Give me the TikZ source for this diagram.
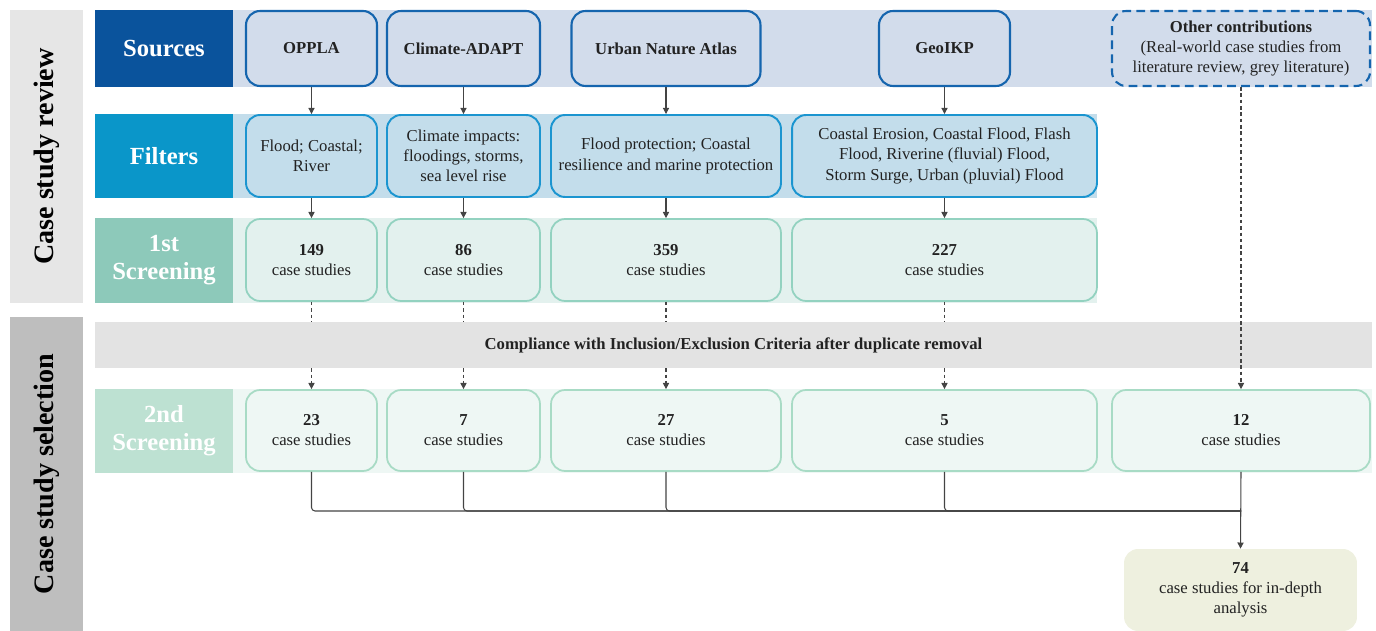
\documentclass[tikz,border=0pt]{standalone}
\usepackage{fontspec}
\setmainfont{Liberation Serif}
\usetikzlibrary{arrows.meta, positioning}
\definecolor{reviewgray}{HTML}{E6E6E6}
\definecolor{selectgray}{HTML}{BEBEBE}
\definecolor{srclabel}{HTML}{0A539C}
\definecolor{srcband}{HTML}{D2DCEB}
\definecolor{srcborder}{HTML}{1565AE}
\definecolor{fltlabel}{HTML}{0A96C9}
\definecolor{fltband}{HTML}{C3DDEB}
\definecolor{fltborder}{HTML}{1B95D0}
\definecolor{onelabel}{HTML}{8DC9BA}
\definecolor{oneband}{HTML}{E3F1EE}
\definecolor{oneborder}{HTML}{93D2C0}
\definecolor{critband}{HTML}{E3E3E3}
\definecolor{twolabel}{HTML}{BDE1D2}
\definecolor{twoband}{HTML}{EEF7F4}
\definecolor{twoborder}{HTML}{A8DBC5}
\definecolor{finalfill}{HTML}{EEF0DF}
\definecolor{txtdark}{HTML}{222222}
\definecolor{arrowgray}{HTML}{444444}

\begin{document}
\begin{tikzpicture}[
  x=0.02cm, y=-0.02cm,
  every node/.style={font=\fontsize{9.5}{11.4}\selectfont, text=txtdark, inner sep=2pt},
  sidebar/.style={rectangle, rotate=90, minimum height=1.46cm, align=center, font=\fontsize{16}{19}\selectfont\bfseries, text=black},
  rowlabel/.style={rectangle, minimum width=2.76cm, align=center, font=\fontsize{14}{16}\selectfont\bfseries, text=white},
  srcbox/.style={rectangle, rounded corners=8pt, draw=srcborder, fill=srcband, line width=1.2pt, minimum height=1.5cm, align=center, font=\fontsize{9.5}{11.4}\selectfont\bfseries},
  fltbox/.style={rectangle, rounded corners=8pt, draw=fltborder, fill=fltband, line width=1.1pt, minimum height=1.64cm, align=center},
  onebox/.style={rectangle, rounded corners=8pt, draw=oneborder, fill=oneband, line width=1pt, minimum height=1.64cm, align=center},
  twobox/.style={rectangle, rounded corners=8pt, draw=twoborder, fill=twoband, line width=1pt, minimum height=1.62cm, align=center},
  flow/.style={draw=arrowgray, line width=0.6pt, -{Triangle[length=3.5pt,width=3.5pt]}},
  dflow/.style={flow, dash pattern=on 2pt off 1.6pt},
]
\useasboundingbox (0,0) rectangle (1376,631);

% row bands
\fill[srcband] (233,10) rectangle (1372,87);
\fill[fltband] (233,114) rectangle (1097,198);
\fill[oneband] (233,218) rectangle (1097,303);
\fill[twoband] (233,389) rectangle (1372,473);

\node[sidebar, fill=reviewgray, minimum width=5.86cm] (review) at (46.5,156.5) {Case study review};
\node[sidebar, fill=selectgray, minimum width=6.28cm] (select) at (46.5,474) {Case study selection};

\node[rowlabel, fill=srclabel, minimum height=1.54cm] (lsrc) at (164,48.5) {Sources};
\node[rowlabel, fill=fltlabel, minimum height=1.68cm] (lflt) at (164,156) {Filters};
\node[rowlabel, fill=onelabel, minimum height=1.70cm] (lone) at (164,260.5) {1st\\Screening};
\node[rowlabel, fill=twolabel, minimum height=1.68cm] (ltwo) at (164,431) {2nd\\Screening};

\node[srcbox, minimum width=2.62cm] (s1) at (311.5,48.5) {OPPLA};
\node[srcbox, minimum width=3.06cm] (s2) at (463.5,48.5) {Climate-ADAPT};
\node[srcbox, minimum width=3.78cm] (s3) at (666,48.5) {Urban Nature Atlas};
\node[srcbox, minimum width=2.62cm] (s4) at (944.5,48.5) {GeoIKP};
\node[srcbox, dashed, dash pattern=on 5pt off 3pt, minimum width=5.16cm, font=\fontsize{9.5}{11.4}\selectfont] (oth) at (1241,48.5) {\textbf{Other contributions}\\(Real-world case studies from\\literature review, grey literature)};

\node[fltbox, minimum width=2.62cm] (f1) at (311.5,156) {Flood; Coastal;\\River};
\node[fltbox, minimum width=3.06cm] (f2) at (463.5,156) {Climate impacts:\\floodings, storms,\\sea level rise};
\node[fltbox, minimum width=4.6cm] (f3) at (666,156) {Flood protection; Coastal\\resilience and marine protection};
\node[fltbox, minimum width=6.1cm] (f4) at (944.5,156) {Coastal Erosion, Coastal Flood, Flash\\Flood, Riverine (fluvial) Flood,\\Storm Surge, Urban (pluvial) Flood};

\node[onebox, minimum width=2.62cm] (o1) at (311.5,260) {\textbf{149}\\case studies};
\node[onebox, minimum width=3.06cm] (o2) at (463.5,260) {\textbf{86}\\case studies};
\node[onebox, minimum width=4.6cm] (o3) at (666,260) {\textbf{359}\\case studies};
\node[onebox, minimum width=6.1cm] (o4) at (944.5,260) {\textbf{227}\\case studies};

\node[rectangle, fill=critband, minimum width=25.54cm, minimum height=0.92cm, font=\fontsize{9.5}{11.4}\selectfont\bfseries] (crit) at (733.5,345) {Compliance with Inclusion/Exclusion Criteria after duplicate removal};

\node[twobox, minimum width=2.62cm] (t1) at (311.5,430.5) {\textbf{23}\\case studies};
\node[twobox, minimum width=3.06cm] (t2) at (463.5,430.5) {\textbf{7}\\case studies};
\node[twobox, minimum width=4.6cm] (t3) at (666,430.5) {\textbf{27}\\case studies};
\node[twobox, minimum width=6.1cm] (t4) at (944.5,430.5) {\textbf{5}\\case studies};
\node[twobox, minimum width=5.16cm] (t5) at (1241,430.5) {\textbf{12}\\case studies};

\node[rectangle, rounded corners=8pt, fill=finalfill, minimum width=4.66cm, minimum height=1.64cm, align=center] (fin) at (1240.5,590) {\textbf{74}\\case studies for in-depth\\analysis};

\coordinate (jn) at (1241,511);

\foreach \i in {1,2,3,4} {
  \draw[flow] (s\i.south) -- (f\i.north);
  \draw[flow] (f\i.south) -- (o\i.north);
  \draw[draw=arrowgray, line width=0.6pt, dash pattern=on 2pt off 1.6pt] (o\i.south) -- (o\i.south |- crit.north);
  \draw[dflow] (o\i.south |- crit.south) -- (t\i.north);
  \draw[draw=arrowgray, line width=0.6pt, rounded corners=2pt] (t\i.south) |- (jn);
}
\draw[dflow] (oth.south) -- (t5.north);
\draw[flow] (t5.south) -- (fin.north);
\end{tikzpicture}
\end{document}
